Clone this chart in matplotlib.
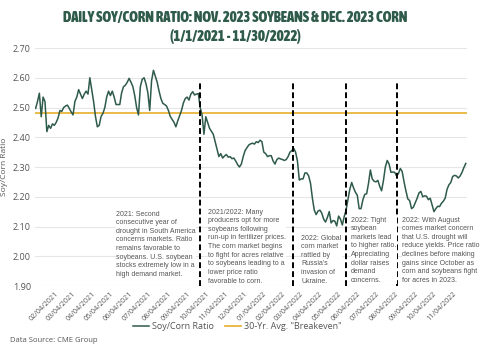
import matplotlib
matplotlib.use("Agg")
import matplotlib.pyplot as plt
import matplotlib.dates as mdates
from matplotlib import font_manager
import pandas as pd

# soy/corn ratio, read every 3 days starting 01/04/2021
ratio = [
    2.497, 2.52, 2.548, 2.469, 2.535, 2.52, 2.419, 2.44, 2.43, 2.445,
    2.44, 2.45, 2.465, 2.49, 2.487, 2.50, 2.505, 2.508, 2.497, 2.485,
    2.475, 2.52, 2.535, 2.56, 2.545, 2.53, 2.545, 2.555, 2.545, 2.60,
    2.56, 2.52, 2.47, 2.435, 2.44, 2.47, 2.48, 2.50, 2.535, 2.555,
    2.54, 2.555, 2.535, 2.51, 2.51, 2.51, 2.55, 2.57, 2.575, 2.585,
    2.598, 2.585, 2.57, 2.54, 2.50, 2.475, 2.57, 2.595, 2.60, 2.58,
    2.55, 2.49, 2.59, 2.625, 2.605, 2.585, 2.555, 2.53, 2.514, 2.51,
    2.505, 2.49, 2.47, 2.46, 2.45, 2.435, 2.455, 2.472, 2.49, 2.515,
    2.53, 2.535, 2.525, 2.545, 2.553, 2.542, 2.545, 2.547, 2.50, 2.475,
    2.41, 2.469, 2.45, 2.43, 2.42, 2.41, 2.385, 2.36, 2.335, 2.345,
    2.33, 2.337, 2.342, 2.333, 2.335, 2.328, 2.33, 2.32, 2.308, 2.30,
    2.31, 2.335, 2.355, 2.365, 2.374, 2.378, 2.38, 2.377, 2.385, 2.382,
    2.39, 2.385, 2.35, 2.345, 2.335, 2.338, 2.338, 2.32, 2.31, 2.325,
    2.33, 2.327, 2.325, 2.322, 2.325, 2.335, 2.35, 2.355, 2.363, 2.35,
    2.32, 2.256, 2.26, 2.26, 2.28, 2.28, 2.27, 2.245, 2.195, 2.155,
    2.14, 2.152, 2.155, 2.145, 2.125, 2.115, 2.13, 2.15, 2.112, 2.12,
    2.118, 2.102, 2.135, 2.125, 2.105, 2.133, 2.155, 2.19, 2.225, 2.248,
    2.23, 2.215, 2.205, 2.16, 2.16, 2.19, 2.208, 2.21, 2.245, 2.29,
    2.26, 2.252, 2.25, 2.255, 2.235, 2.22, 2.255, 2.30, 2.322, 2.31,
    2.282, 2.283, 2.282, 2.27, 2.278, 2.295, 2.285, 2.25, 2.22, 2.193,
    2.187, 2.16, 2.165, 2.18, 2.195, 2.213, 2.218, 2.20, 2.203, 2.202,
    2.19, 2.195, 2.172, 2.15, 2.16, 2.168, 2.167, 2.178, 2.185, 2.195,
    2.225, 2.24, 2.248, 2.268, 2.272, 2.27, 2.263, 2.27, 2.282, 2.298,
    2.312,
]
dates = pd.date_range("2021-01-04", periods=len(ratio), freq="3D")
breakeven = 2.48

event_dates = ["2021-09-24", "2022-02-21", "2022-05-17", "2022-08-06"]
notes = [
    ("2021", ": Second\nconsecutive year of\ndrought in South America\nconcerns markets. Ratio\n"
             "remains favorable to\nsoybeans. U.S. soybean\nstocks extremely low in a\nhigh demand market."),
    ("2021/2022", ": Many\nproducers opt for more\nsoybeans following\nrun-up in fertilizer prices.\n"
                  "The corn market begins\nto fight for acres relative\nto soybeans leading to a\n"
                  "lower price ratio\nfavorable to corn."),
    ("2022", ": Global\ncorn market\nrattled by\nRussia's\ninvasion of\nUkraine."),
    ("2022", ": Tight\nsoybean\nmarkets lead\nto higher ratio.\nAppreciating\ndollar raises\ndemand\nconcerns."),
    ("2022", ": With August\ncomes market concern\nthat U.S. drought will\nreduce yields. Price ratio\n"
             "declines before making\ngains since October as\ncorn and soybeans fight\nfor acres in 2023."),
]
note_pos = [(116, 215), (208, 213), (301, 239), (351, 221), (402, 221)]  # pixels

green = "#2f5b4b"
gold = "#e6ae2a"
grey = "#555555"


def weight_of(f):
    w = f.weight
    return w if isinstance(w, int) else font_manager.weight_dict.get(w, 400)


narrow = [f for f in font_manager.fontManager.ttflist
          if ("Narrow" in f.name or "Condensed" in f.name or "condensed" in str(f.stretch))
          and f.style == "normal"]
narrow.sort(key=lambda f: -weight_of(f))
title_font = (font_manager.FontProperties(fname=narrow[0].fname) if narrow
              else font_manager.FontProperties(family="DejaVu Sans", weight="bold"))
title_font.set_size(10.5)

plt.rcParams["font.family"] = ["Open Sans", "DejaVu Sans"]

fig = plt.figure(figsize=(4.8, 3.49), dpi=100)
ax = fig.add_axes([35 / 480, 1 - 286 / 349, 432 / 480, 238 / 349])

ax.plot(dates, ratio, color=green, lw=1.1, label="Soy/Corn Ratio", zorder=3)
ax.axhline(breakeven, color=gold, lw=1.2, label='30-Yr. Avg. "Breakeven"', zorder=2)
for d in event_dates:
    ax.axvline(pd.Timestamp(d), ymin=0, ymax=(2.585 - 1.9) / 0.8, color="black",
               lw=1.4, ls=(0, (3, 1.6)), zorder=4)

ax.set_ylim(1.9, 2.7)
ax.set_yticks([1.9, 2.0, 2.1, 2.2, 2.3, 2.4, 2.5, 2.6, 2.7])
ax.set_yticklabels(["%.2f" % v for v in ax.get_yticks()], fontsize=6.5, color=grey)
ax.set_xlim(pd.Timestamp("2021-01-03"), pd.Timestamp("2022-11-27"))
ax.set_xticks(pd.date_range("2021-01-04", "2022-11-04", freq="MS") + pd.Timedelta(days=3))
ax.xaxis.set_major_formatter(mdates.DateFormatter("%m/%d/%Y"))
plt.setp(ax.get_xticklabels(), rotation=45, ha="right", rotation_mode="anchor",
         fontsize=5.2, color=grey)
ax.tick_params(length=0, pad=3)
ax.grid(axis="y", color="#e6e6e6", lw=0.8)
ax.set_axisbelow(True)
for s in ax.spines.values():
    s.set_visible(False)
ax.set_ylabel("Soy/Corn Ratio", fontsize=6, color=grey)
ax.yaxis.set_label_coords(-27 / 432, 0.5)

for (head, body), (px, py) in zip(notes, note_pos):
    fig.text(px / 480, 1 - (py - 4.5) / 349, head + body, fontsize=5.0, color=grey,
             family=["Liberation Sans", "DejaVu Sans"],
             va="top", ha="left", linespacing=1.33,
             bbox=dict(facecolor="white", edgecolor="none", pad=0.3), zorder=5)

ax.legend(loc="center", bbox_to_anchor=(0.468, -0.172), ncol=2, frameon=False,
          fontsize=6.5, labelcolor=grey, handlelength=1.8, columnspacing=1.2,
          handletextpad=0.3)

fig.text(235 / 480, 1 - 18 / 349, "DAILY SOY/CORN RATIO: NOV. 2023 SOYBEANS & DEC. 2023 CORN",
         ha="center", va="center", color=green, fontproperties=title_font)
fig.text(235 / 480, 1 - 37 / 349, "(1/1/2021 - 11/30/2022)",
         ha="center", va="center", color=green, fontproperties=title_font)
fig.text(10 / 480, 1 - 341 / 349, "Data Source: CME Group", fontsize=5.5, color=grey,
         va="center")

fig.savefig("out.png", dpi=100)
